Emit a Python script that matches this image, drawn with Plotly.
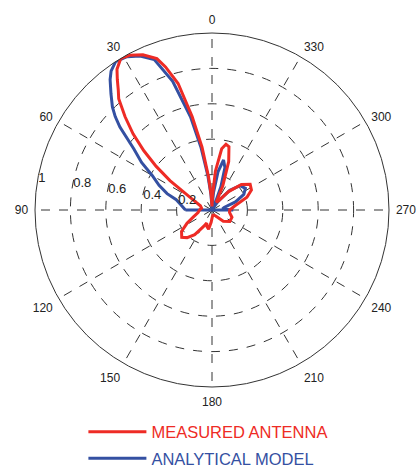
import plotly.graph_objects as go

# Measured antenna pattern (angle in degrees, normalized magnitude)
measured_theta = [0, 3, 6, 9, 12, 15, 18, 20, 24, 28, 31, 34, 36, 38, 40, 43, 46, 49, 52, 55, 58, 63,
                  70, 80, 90,
                  100, 110, 118, 125, 132, 138, 145, 152, 158, 164, 170, 176, 182, 190, 200, 212, 225,
                  237, 250, 262, 270, 280, 290, 297, 304, 311, 318, 325, 331, 336, 341, 345, 348,
                  351, 355, 358, 360]
measured_r = [0.02, 0.08, 0.19, 0.36, 0.54, 0.74, 0.85, 0.91, 0.96, 0.99, 1.0, 0.96, 0.91, 0.86, 0.82,
              0.72, 0.62, 0.51, 0.40, 0.29, 0.18, 0.11,
              0.07, 0.06, 0.07,
              0.08, 0.11, 0.16, 0.21, 0.23, 0.21, 0.17, 0.11, 0.08, 0.10, 0.11, 0.07, 0.04, 0.03,
              0.03, 0.04, 0.09, 0.12, 0.12, 0.10, 0.10, 0.13, 0.21, 0.25, 0.26, 0.22, 0.14, 0.06,
              0.05, 0.15, 0.29, 0.37, 0.38, 0.35, 0.22, 0.08, 0.02]

# Analytical model (defined over the upper half-plane, 90 -> 0 -> 270)
model_theta = [90, 80, 74, 70, 65, 60, 56, 52, 48, 46, 44, 41, 38, 36, 33, 29, 25, 21, 17, 13, 10, 7,
               4, 2, 0,
               359, 355, 351, 347, 343, 339, 335, 332, 325, 318, 311, 303, 296, 289, 282, 276, 270, 90]
model_r = [0.15, 0.18, 0.21, 0.27, 0.33, 0.39, 0.48, 0.56, 0.70, 0.76, 0.81, 0.87, 0.935, 0.97, 1.0,
           0.99, 0.96, 0.91, 0.76, 0.54, 0.36, 0.20,
           0.09, 0.03, 0.0,
           0.02, 0.10, 0.22, 0.29, 0.25, 0.14, 0.04, 0.01, 0.06, 0.15, 0.21, 0.225, 0.20, 0.14, 0.07,
           0.06, 0.12, 0.15]

angle_ticks = list(range(0, 360, 30))
radial_ticks = [0.2, 0.4, 0.6, 0.8, 1.0]
radial_labels = ["0.2", "0.4", "0.6", "0.8", "1"]

RED = "#ee2b25"
BLUE = "#3450a2"
FONT = "Liberation Sans, Arial, sans-serif"

fig = go.Figure()
fig.add_trace(go.Scatterpolar(
    theta=model_theta, r=model_r, mode="lines",
    line=dict(color=BLUE, width=3),
    name=f"<span style='color:{BLUE}'>ANALYTICAL MODEL</span>",
    legendgroup="b", legendrank=2))
fig.add_trace(go.Scatterpolar(
    theta=measured_theta, r=measured_r, mode="lines",
    line=dict(color=RED, width=3),
    name=f"<span style='color:{RED}'>MEASURED ANTENNA</span>",
    legendgroup="a", legendrank=1))

fig.update_layout(
    width=417, height=468,
    margin=dict(l=0, r=0, t=0, b=0, autoexpand=False),
    paper_bgcolor="white",
    font=dict(family=FONT, size=13, color="#222"),
    polar=dict(
        domain=dict(x=[35/417, 389/417], y=[1-387/468, 1-33/468]),
        bgcolor="white",
        angularaxis=dict(
            rotation=90, direction="counterclockwise",
            tickmode="array", tickvals=angle_ticks,
            ticktext=[str(a) for a in angle_ticks],
            showline=True, linecolor="#333", linewidth=1,
            showgrid=True, gridcolor="#333", gridwidth=1, griddash="dash",
            ticks="outside", ticklen=4, tickcolor="rgba(0,0,0,0)",
            tickfont=dict(size=12, color="#222"),
        ),
        radialaxis=dict(
            range=[0, 1], angle=171, tickangle=171,
            tickmode="array", tickvals=radial_ticks, ticktext=radial_labels,
            showline=False, ticks="",
            showgrid=True, gridcolor="#333", gridwidth=1, griddash="dash",
            tickfont=dict(size=13, color="#222"),
        ),
    ),
    showlegend=True,
    legend=dict(
        x=0.2, y=0.114, xanchor="left", yanchor="top",
        traceorder="grouped", tracegroupgap=2, itemwidth=58,
        font=dict(size=16.5, family=FONT),
        bgcolor="rgba(0,0,0,0)",
    ),
)

fig.write_html("out.html", config={"displayModeBar": False},
               post_script="document.body.style.margin='0';")
